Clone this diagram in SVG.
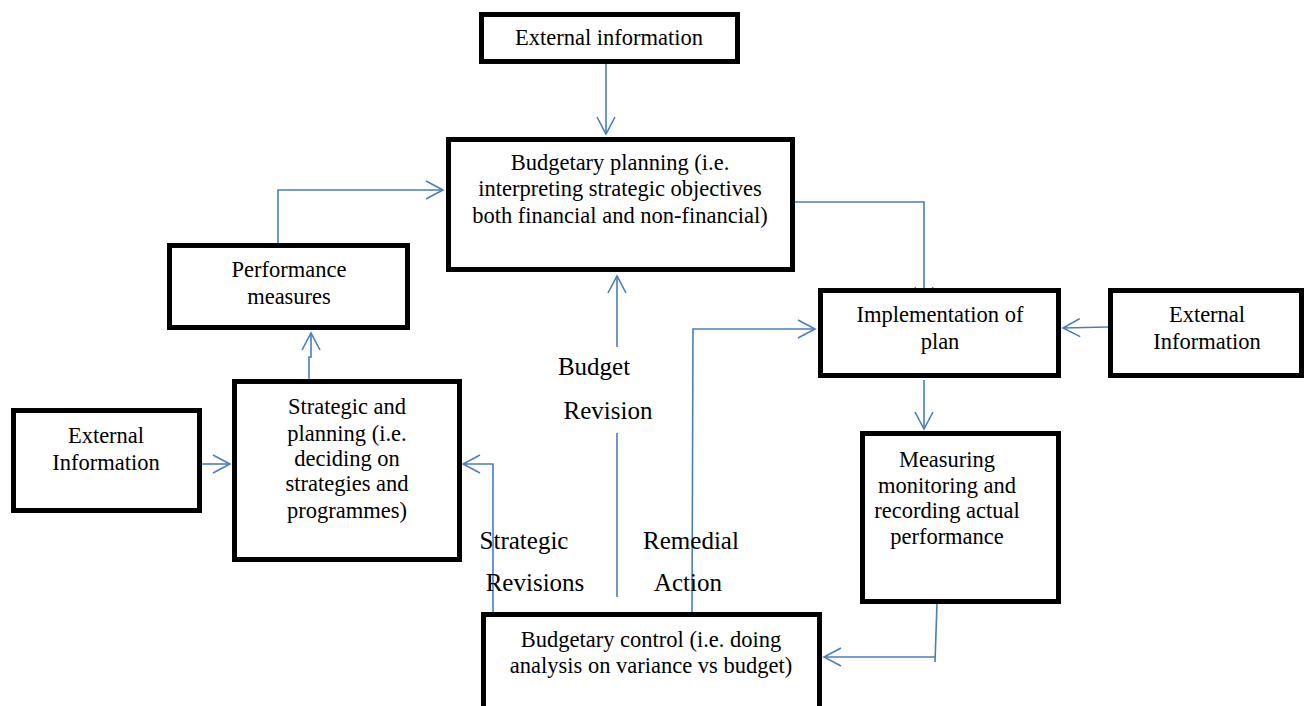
<svg xmlns="http://www.w3.org/2000/svg" width="1304" height="706" viewBox="0 0 1304 706">
<style>
.box{fill:#fff;stroke:#000;stroke-width:5}
.t{font-family:"Liberation Serif","Times New Roman",serif;font-size:22.5px;fill:#000;text-anchor:middle}
.lbl{font-family:"Liberation Serif","Times New Roman",serif;font-size:25px;fill:#000;text-anchor:middle}
.c{fill:none;stroke:#4a7ebb;stroke-width:1.6}
</style>
<defs>
<marker id="ah" markerUnits="userSpaceOnUse" viewBox="0 0 20 20" refX="18" refY="10" markerWidth="20" markerHeight="20" orient="auto">
<path d="M1,1 L18,10 L1,19" fill="none" stroke="#4a7ebb" stroke-width="1.6"/>
</marker>
</defs>
<rect width="1304" height="706" fill="#fff"/>
<g id="connectors">
<path class="c" d="M606,64 L606,134" marker-end="url(#ah)"/>
<path class="c" d="M278,243 L278,190 L443,190" marker-end="url(#ah)"/>
<path class="c" d="M309,382 L309,357 L311,357 L311,333" marker-end="url(#ah)"/>
<path class="c" d="M199,464 L230,464" marker-end="url(#ah)"/>
<path class="c" d="M617,347 L617,276" marker-end="url(#ah)"/>
<path class="c" d="M617,433 L617,597"/>
<path class="c" d="M795,202 L924,202 L924,304" marker-end="url(#ah)"/>
<path class="c" d="M1108,327 L1063,328" marker-end="url(#ah)"/>
<path class="c" d="M924,380 L924,429" marker-end="url(#ah)"/>
<path class="c" d="M937,603 L935,662"/>
<path class="c" d="M935,657 L824,657" marker-end="url(#ah)"/>
<path class="c" d="M493,617 L493,464 L463,464" marker-end="url(#ah)"/>
<path class="c" d="M692,613 L693,329 L815,329" marker-end="url(#ah)"/>
</g>
<g id="ext-top">
<rect class="box" x="481.500" y="14.500" width="256" height="47"/>
<text class="t" x="609" y="45">External information</text>
</g>
<g id="budgetary-planning">
<rect class="box" x="448.500" y="139.500" width="344" height="130"/>
<text class="t" x="620" y="170">Budgetary planning (i.e.</text>
<text class="t" x="620" y="196">interpreting strategic objectives</text>
<text class="t" x="620" y="223">both financial and non-financial)</text>
</g>
<g id="performance-measures">
<rect class="box" x="169.500" y="245.500" width="238" height="82"/>
<text class="t" x="289" y="277">Performance</text>
<text class="t" x="289" y="304">measures</text>
</g>
<g id="implementation">
<rect class="box" x="820.500" y="290.500" width="238" height="85"/>
<text class="t" x="940" y="322">Implementation of</text>
<text class="t" x="940" y="349">plan</text>
</g>
<g id="ext-right">
<rect class="box" x="1110.500" y="290.500" width="191" height="85"/>
<text class="t" x="1207" y="322">External</text>
<text class="t" x="1207" y="349">Information</text>
</g>
<g id="ext-left">
<rect class="box" x="13.500" y="410.500" width="186" height="100"/>
<text class="t" x="106" y="443">External</text>
<text class="t" x="106" y="470">Information</text>
</g>
<g id="strategic-planning">
<rect class="box" x="234.500" y="381.500" width="225" height="178"/>
<text class="t" x="347" y="414">Strategic and</text>
<text class="t" x="347" y="441">planning (i.e.</text>
<text class="t" x="347" y="466">deciding on</text>
<text class="t" x="347" y="491">strategies and</text>
<text class="t" x="347" y="518">programmes)</text>
</g>
<g id="measuring">
<rect class="box" x="862.500" y="433.500" width="196" height="168"/>
<text class="t" x="947" y="467">Measuring</text>
<text class="t" x="947" y="493">monitoring and</text>
<text class="t" x="947" y="518">recording actual</text>
<text class="t" x="947" y="544">performance</text>
</g>
<g id="budgetary-control">
<rect class="box" x="483.500" y="614.500" width="336" height="100"/>
<text class="t" x="651" y="647">Budgetary control (i.e. doing</text>
<text class="t" x="651" y="673">analysis on variance vs budget)</text>
</g>
<g id="labels">
<text class="lbl" x="594" y="375">Budget</text>
<text class="lbl" x="608" y="419">Revision</text>
<text class="lbl" x="524" y="549">Strategic</text>
<text class="lbl" x="535" y="591">Revisions</text>
<text class="lbl" x="691" y="549">Remedial</text>
<text class="lbl" x="688" y="591">Action</text>
</g>
</svg>
